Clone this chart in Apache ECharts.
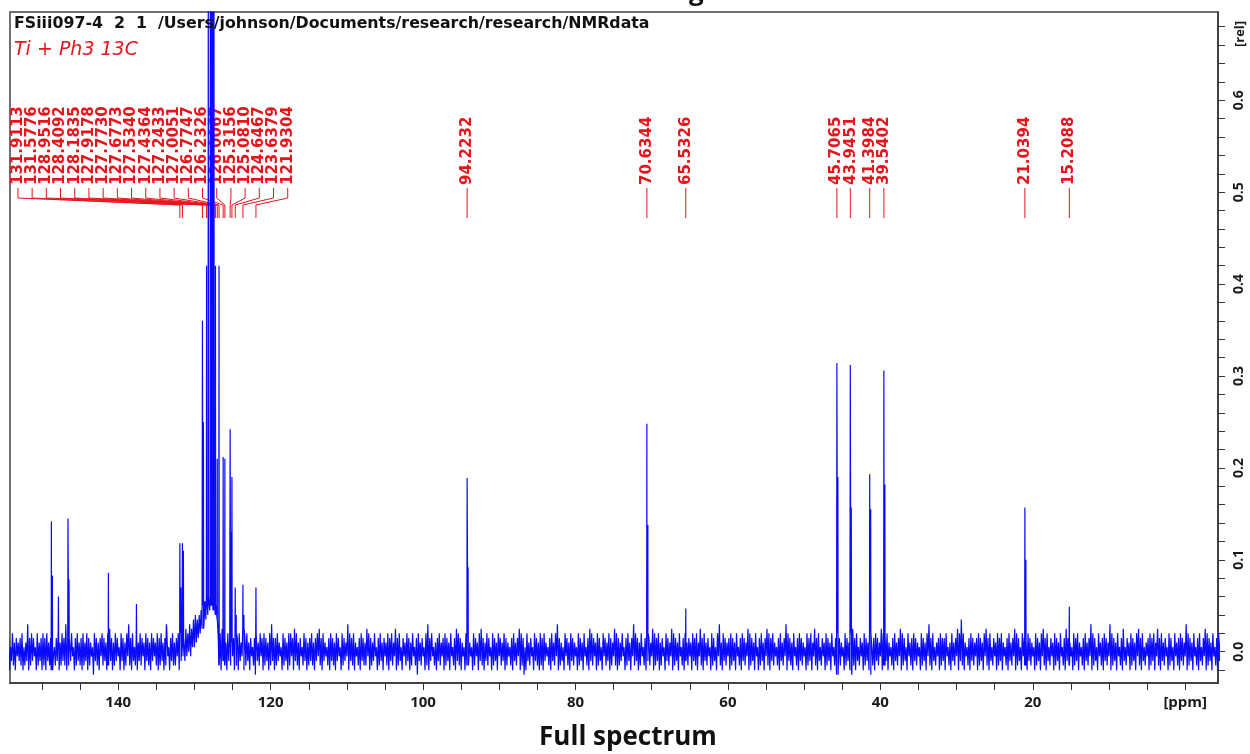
<!DOCTYPE html>
<html>
<head>
<meta charset="utf-8">
<title>Full spectrum</title>
<script src="https://cdn.jsdelivr.net/npm/echarts@6.0.0/dist/echarts.min.js"></script>
<style>
  html, body { margin: 0; padding: 0; background: #fff; }
  #chart { width: 1250px; height: 754px; }
</style>
</head>
<body>
<div id="chart"></div>
<script>
// Picked peaks (ppm) with their relative intensities; shoulder = intensity of the adjacent sample point
const peakPpm = [131.9113, 131.5776, 128.9516, 128.4092, 128.1835, 127.9178, 127.7730, 127.6773,
  127.5340, 127.4364, 127.2433, 127.0051, 126.7747, 126.2326, 126.0067, 125.3156, 125.0810,
  124.6467, 123.6379, 121.9304, 94.2232, 70.6344, 65.5326, 45.7065, 43.9451, 41.3984, 39.5402,
  21.0394, 15.2088];
const peakHeight = [0.118, 0.118, 0.360, 0.420, 0.800, 0.720, 1.000, 0.900,
  0.800, 0.750, 0.420, 0.210, 0.420, 0.212, 0.210, 0.242, 0.190,
  0.070, 0.073, 0.070, 0.189, 0.248, 0.047, 0.314, 0.312, 0.193, 0.306,
  0.157, 0.049];
const peakShoulder = [0.070, 0.110, 0.250, null, null, null, null, null,
  null, null, null, null, null, null, null, 0.130, null,
  0.040, 0.040, null, 0.092, 0.138, null, 0.190, 0.157, 0.155, 0.182,
  0.100, null];

// Unlabelled signals (quaternary / ipso region)
const minorPpm = [148.77, 147.85, 146.59, 141.29, 137.61, 133.67];
const minorHeight = [0.142, 0.060, 0.145, 0.086, 0.052, 0.030];
const minorShoulder = [0.083, null, 0.079, null, null, null];

// Baseline noise, one base-36 code per 0.125 ppm, one string per 5 ppm starting at 154.5 ppm
const noiseCodes = [
  "2816392718" + "4738291627" + "3b18293846" + "1927381928",
  "1937281a46" + "2839172938" + "2b18273946" + "1829372819",
  "2739182746" + "0938271849" + "2837192a38" + "1729384619",
  "3817294b28" + "1936281739" + "2847193827" + "1938472918",
  "2937182a46" + "1839272849" + "1938473a49" + "5b4a6c6d7c",
  "8d9eafbgch" + "dhegfhegdf" + "c8291a3827" + "1938274819",
  "2819374a18" + "2937184628" + "0937294819" + "2837192b38",
  "1829374619" + "2837192948" + "1a39271846" + "2938172839",
  "2718394a28" + "1937462819" + "3827193846" + "1928374b19",
  "3829174628" + "1938272a49" + "1827394618" + "2937184729",
  "1839274a18" + "2936184729" + "3817294628" + "0937284619",
  "2b18394627" + "1839274819" + "2837194628" + "1a39281746",
  "1928374619" + "2847193a28" + "1739284619" + "2837194827",
  "3918274628" + "1937284a19" + "2806193728" + "4619382719",
  "2819374628" + "1937294b18" + "2736194827" + "1938274619",
  "2837194628" + "1a39284719" + "2836194827" + "3918274a29",
  "1827394618" + "2937184b29" + "3817294628" + "1938274a19",
  "2839172846" + "1938274a19" + "2837194628" + "1937284719",
  "3829174a28" + "1937284619" + "2836194b27" + "1938274819",
  "2837194628" + "1938274a19" + "2837194618" + "2937184a29",
  "1839274628" + "1937284b19" + "3827194628" + "1938274619",
  "2839174a28" + "1936284719" + "2837194628" + "0938274619",
  "2837190a28" + "1936284719" + "2837190628" + "1938274a19",
  "2839174628" + "1937284a19" + "2836194728" + "1938274619",
  "2837194b28" + "1936274819" + "2838194627" + "1937284a19",
  "3c29174628" + "1938274819" + "2837194a28" + "1936284719",
  "2839174628" + "1937284a19" + "2836194827" + "1938274619",
  "2837194a28" + "1936284719" + "2837194628" + "1a38274619",
  "2839174628" + "1937284b19" + "2836194728" + "1938274b19",
  "2837194628" + "1a36284719" + "2837194a28" + "1936274819",
  "2839174a28" + "1937284619" + "2836194728" + "1938274b19",
  "2837194628" + "1936284a19" + "2837194628" + "19382"
];

// Axis tick labels
const xTickLabels = [0, 20, 40, 60, 80, 100, 120, 140];
const yTickLabels = [0.0, 0.1, 0.2, 0.3, 0.4, 0.5, 0.6];

const NOISE_START = 154.5, NOISE_STEP = 0.125, CHUNK_PPM = 5, NOISE_UNIT = 0.005;

// ---- build the spectrum trace ----
const noiseByIndex = {};
const points = [];
noiseCodes.forEach((s, k) => {
  for (let j = 0; j < s.length && j < CHUNK_PPM / NOISE_STEP; j++) {
    const ppm = NOISE_START - CHUNK_PPM * k - NOISE_STEP * j;
    const v = (parseInt(s[j], 36) - 5) * NOISE_UNIT;
    noiseByIndex[Math.round((NOISE_START - ppm) / NOISE_STEP)] = v;
    points.push([ppm, v]);
  }
});
function baseAt(ppm) {
  const i = Math.round((NOISE_START - ppm) / NOISE_STEP);
  return noiseByIndex[i] !== undefined ? noiseByIndex[i] : 0;
}
function addPeak(p, h, s) {
  const b = baseAt(p);
  points.push([p + 0.03, b], [p, h]);
  if (s !== null && s !== undefined) {
    points.push([p - 0.13, s], [p - 0.16, b]);
  } else {
    points.push([p - 0.03, b]);
  }
}
peakPpm.forEach((p, i) => addPeak(p, peakHeight[i], peakShoulder[i]));
minorPpm.forEach((p, i) => addPeak(p, minorHeight[i], minorShoulder[i]));
points.sort((a, b) => b[0] - a[0]);

// tick marks every 5 ppm and every 0.02 rel
const xTicks = [];
for (let v = 0; v <= 150; v += 5) xTicks.push(v);
const yTicks = [];
for (let k = -1; k <= 34; k++) yTicks.push(+(k * 0.02).toFixed(2));

// ---- peak label layout ----
const LABEL_SPACING = 14.2;
const CLUSTER_NUDGE = -64;
const RED = '#e8141c';

function layoutLabels(api) {
  const xs = peakPpm.map(p => api.coord([p, 0])[0]);
  const order = xs.map((x, i) => i).sort((a, b) => xs[a] - xs[b]);
  let groups = order.map(i => ({ members: [i], center: xs[i] }));
  let merged = true;
  while (merged) {
    merged = false;
    for (let g = 0; g < groups.length - 1; g++) {
      const A = groups[g], B = groups[g + 1];
      const aRight = A.center + (A.members.length - 1) * LABEL_SPACING / 2;
      const bLeft = B.center - (B.members.length - 1) * LABEL_SPACING / 2;
      if (bLeft - aRight < LABEL_SPACING) {
        const members = A.members.concat(B.members);
        const center = members.reduce((s, i) => s + xs[i], 0) / members.length;
        groups.splice(g, 2, { members, center });
        merged = true;
        break;
      }
    }
  }
  const pos = [];
  groups.forEach(G => {
    const n = G.members.length;
    const shift = n >= 10 ? CLUSTER_NUDGE : 0;
    G.members.forEach((i, k) => { pos[i] = G.center + shift + (k - (n - 1) / 2) * LABEL_SPACING; });
  });
  return { xs, pos };
}

function renderPeakLabel(params, api) {
  const i = params.dataIndex;
  const L = layoutLabels(api);
  const top = params.coordSys.y;
  const lx = L.pos[i], px = L.xs[i];
  const yText = top + 173, y0 = top + 176, y1 = top + 186, y2 = top + 193, y3 = top + 206;
  const pts = Math.abs(lx - px) < 0.6
    ? [[px, y0], [px, y3]]
    : [[lx, y0], [lx, y1], [px, y2], [px, y3]];
  return {
    type: 'group',
    children: [
      {
        type: 'text', x: lx, y: yText, rotation: Math.PI / 2,
        style: {
          text: peakPpm[i].toFixed(4), x: 0, y: 0,
          fill: RED, font: 'bold 15px "DejaVu Sans"',
          align: 'left', verticalAlign: 'middle'
        }
      },
      {
        type: 'polyline',
        shape: { points: pts },
        style: { stroke: RED, lineWidth: 1, fill: null }
      }
    ]
  };
}

const chart = echarts.init(document.getElementById('chart'), null, { renderer: 'canvas' });
chart.setOption({
  animation: false,
  backgroundColor: '#fff',
  grid: { left: 10, right: 32, top: 12, bottom: 71, show: true, borderColor: '#707070', borderWidth: 2 },
  xAxis: {
    type: 'value', inverse: true, min: -4.3, max: 154.2,
    splitLine: { show: false },
    axisLine: { onZero: false, lineStyle: { color: '#333', width: 1.5 } },
    axisTick: { customValues: xTicks, length: 7, lineStyle: { color: '#333' } },
    axisLabel: {
      customValues: xTickLabels, margin: 12, color: '#1a1a1a',
      fontFamily: 'Open Sans', fontWeight: 'bold', fontSize: 15,
      formatter: v => (v === 0 ? '[ppm]' : String(v))
    }
  },
  yAxis: {
    type: 'value', position: 'right', min: -0.034, max: 0.696,
    splitLine: { show: false },
    axisLine: { show: true, onZero: false, lineStyle: { color: '#333', width: 1.5 } },
    axisTick: { customValues: yTicks, length: 7, lineStyle: { color: '#333' } },
    axisLabel: {
      customValues: yTickLabels, rotate: 90, margin: 14, color: '#1a1a1a',
      fontFamily: 'Open Sans', fontWeight: 'bold', fontSize: 14,
      formatter: v => v.toFixed(1)
    }
  },
  series: [
    {
      type: 'custom', z: 1, coordinateSystem: 'cartesian2d', clip: false, silent: true,
      data: peakPpm.map(p => [p, 0]),
      encode: { x: 0, y: 1 },
      renderItem: renderPeakLabel
    },
    {
      type: 'line', z: 3, data: points, showSymbol: false, symbol: 'none',
      sampling: null, clip: true, silent: true,
      lineStyle: { color: '#0a0aff', width: 1.2 }
    }
  ],
  graphic: [
    {
      type: 'text', x: 640, y: -7, z: 10,
      style: { text: 'Aromatic region', font: 'bold 26px "Open Sans"', fill: '#111', align: 'center', verticalAlign: 'middle' }
    },
    {
      type: 'text', x: 14, y: 16, z: 10,
      style: { text: 'FSiii097-4  2  1  /Users/johnson/Documents/research/research/NMRdata', font: 'bold 15.8px "DejaVu Sans"', fill: '#111' }
    },
    {
      type: 'text', x: 14, y: 41, z: 10,
      style: { text: 'Ti + Ph3 13C', font: 'italic 19px "DejaVu Sans"', fill: RED }
    },
    {
      type: 'text', x: 1240, y: 34, rotation: Math.PI / 2, z: 10,
      style: { text: '[rel]', font: 'bold 13px "Open Sans"', fill: '#1a1a1a', align: 'center', verticalAlign: 'middle' }
    },
    {
      type: 'text', x: 628, y: 738, z: 10,
      style: { text: 'Full spectrum', font: 'bold 26px "Open Sans"', fill: '#111', align: 'center', verticalAlign: 'middle' }
    }
  ]
});
</script>
</body>
</html>
